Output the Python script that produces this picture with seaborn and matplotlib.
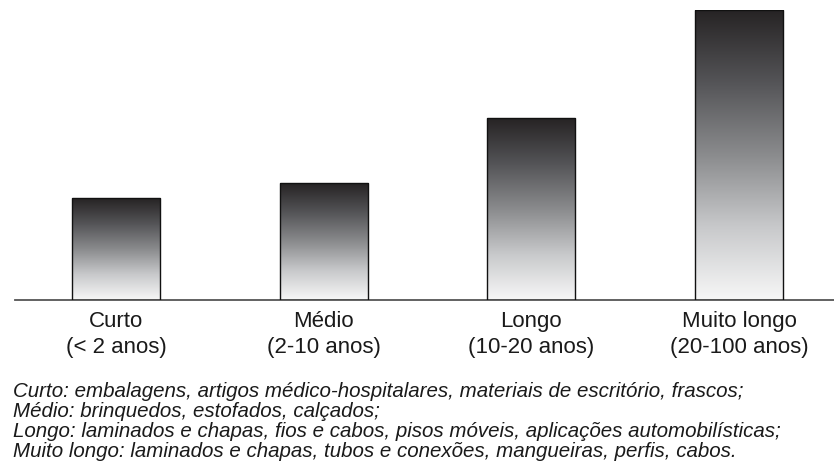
import numpy as np
import pandas as pd
import matplotlib
matplotlib.use("Agg")
import matplotlib.pyplot as plt
from matplotlib.colors import LinearSegmentedColormap
import seaborn as sns

# Service life of plastic products, by category
categorias = ["Curto", "Médio", "Longo", "Muito longo"]
faixas = ["(< 2 anos)", "(2-10 anos)", "(10-20 anos)", "(20-100 anos)"]
vida_util = [102, 117, 182, 290]
notas = [
    "Curto: embalagens, artigos médico-hospitalares, materiais de escritório, frascos;",
    "Médio: brinquedos, estofados, calçados;",
    "Longo: laminados e chapas, fios e cabos, pisos móveis, aplicações automobilísticas;",
    "Muito longo: laminados e chapas, tubos e conexões, mangueiras, perfis, cabos.",
]

sns.set_theme(style="white")
plt.rcParams["font.family"] = ["Liberation Sans", "DejaVu Sans"]

df = pd.DataFrame({"categoria": categorias, "valor": vida_util})

W, H = 834, 473
fig = plt.figure(figsize=(W / 100, H / 100), dpi=100)
ax = fig.add_axes([15 / W, (H - 300) / H, 819 / W, 290 / H])

sns.barplot(data=df, x="categoria", y="valor", ax=ax, width=0.424,
            color="white", edgecolor="#111111", linewidth=1.0, zorder=3)

# Dark-to-light vertical gradient inside each bar
grad_cmap = LinearSegmentedColormap.from_list(
    "grad", ["#f7f7f7", "#c8c9cb", "#8a8b8d", "#545457", "#262324"])
grad = np.linspace(0, 1, 256).reshape(-1, 1)
for patch in ax.patches:
    x0, y0 = patch.get_x(), patch.get_y()
    w, h = patch.get_width(), patch.get_height()
    im = ax.imshow(grad, cmap=grad_cmap, aspect="auto", origin="lower",
                   extent=[x0, x0 + w, y0, y0 + h], zorder=2,
                   interpolation="bilinear")
    im.set_clip_path(patch)
    patch.set_facecolor("none")

ax.set_xlim(-0.486, 3.457)
ax.set_ylim(0, 290)
ax.set_xticks(range(len(categorias)))
ax.set_xticklabels([f"{c}\n{f}" for c, f in zip(categorias, faixas)],
                   fontsize=16, color="#1a1a1a", linespacing=1.28)
ax.tick_params(axis="x", length=0, pad=8)
ax.set_yticks([])
ax.set_xlabel("")
ax.set_ylabel("")
for side in ["top", "left", "right"]:
    ax.spines[side].set_visible(False)
ax.spines["bottom"].set_color("#555555")
ax.spines["bottom"].set_linewidth(1.3)

for i, linha in enumerate(notas):
    fig.text(13 / W, 1 - (397 + 20 * i) / H, linha, fontsize=14.8,
             style="italic", color="#1a1a1a", va="baseline", ha="left")

fig.savefig("out.png", dpi=100, facecolor="white")
